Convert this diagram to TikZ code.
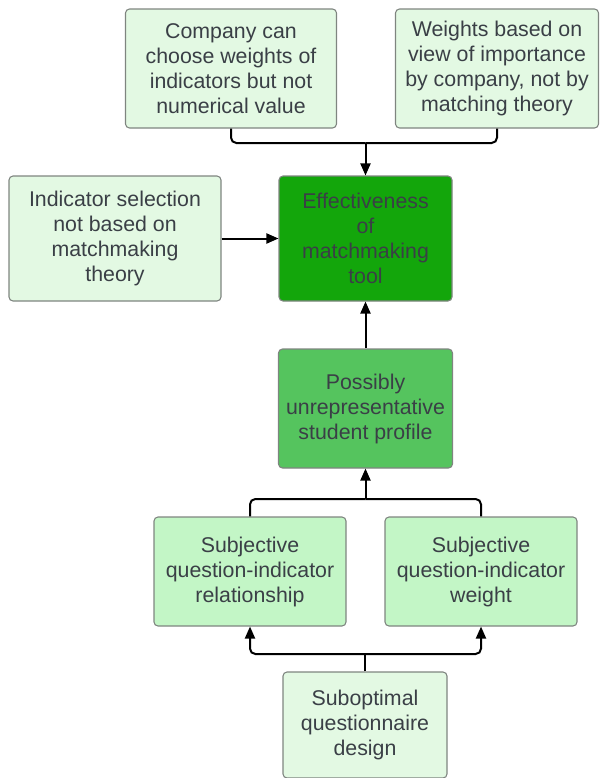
\documentclass[tikz,border=0pt]{standalone}
\usepackage{fontspec}
\setmainfont{Liberation Sans}
\usetikzlibrary{arrows.meta}
\definecolor{txt}{HTML}{3A3F46}
\definecolor{bord}{HTML}{7F8580}
\definecolor{pale}{HTML}{E3F9E3}
\definecolor{mid}{HTML}{C3F6C6}
\definecolor{strong}{HTML}{55C45E}
\definecolor{dark}{HTML}{13A60B}
\tikzset{
  box/.style={draw=bord, line width=0.8pt, rounded corners=3pt, align=center,
    text=txt, font=\fontsize{16}{18.75}\selectfont, inner sep=0pt},
  conn/.style={line width=1.5pt, black, rounded corners=4pt},
  arr/.style={conn, -{Triangle[length=9pt,width=7.5pt]}}
}
\begin{document}
\begin{tikzpicture}[x=0.75pt,y=-0.75pt]
\useasboundingbox (0,0) rectangle (600,778);
\node[box, fill=pale, minimum width=211*0.75pt, minimum height=119*0.75pt] (c1) at (231,68.5)
  {Company can\\choose weights of\\indicators but not\\numerical value};
\node[box, fill=pale, minimum width=203*0.75pt, minimum height=119*0.75pt] (c2) at (497,68.5)
  {Weights based on\\view of importance\\by company, not by\\matching theory};
\node[box, fill=pale, minimum width=212*0.75pt, minimum height=125*0.75pt] (ind) at (115,238.5)
  {Indicator selection\\not based on\\matchmaking\\theory};
\node[box, fill=dark, minimum width=173*0.75pt, minimum height=125*0.75pt] (eff) at (365.5,238.5)
  {Effectiveness\\of\\matchmaking\\tool};
\node[box, fill=strong, minimum width=174*0.75pt, minimum height=119*0.75pt] (pos) at (365.5,408.5)
  {Possibly\\unrepresentative\\student profile};
\node[box, fill=mid, minimum width=192*0.75pt, minimum height=109*0.75pt] (s1) at (250,571.5)
  {Subjective\\question-indicator\\relationship};
\node[box, fill=mid, minimum width=192*0.75pt, minimum height=109*0.75pt] (s2) at (481,571.5)
  {Subjective\\question-indicator\\weight};
\node[box, fill=pale, minimum width=164*0.75pt, minimum height=106*0.75pt] (sub) at (365,725)
  {Suboptimal\\questionnaire\\design};
\coordinate (m1) at (365.5,143);
\coordinate (m2) at (365.5,499);
\coordinate (m3) at (365,654);
\draw[conn] (c1.south) |- (m1);
\draw[conn] (c2.south) |- (m1);
\draw[arr] (m1) -- (eff.north);
\draw[arr] (ind.east) -- (eff.west);
\draw[arr] (pos.north) -- (eff.south);
\draw[conn] (s1.north) |- (m2);
\draw[conn] (s2.north) |- (m2);
\draw[arr] (m2) -- (pos.south);
\draw[conn] (sub.north) -- (m3);
\draw[arr] (m3) -| (s1.south);
\draw[arr] (m3) -| (s2.south);
\end{tikzpicture}
\end{document}
